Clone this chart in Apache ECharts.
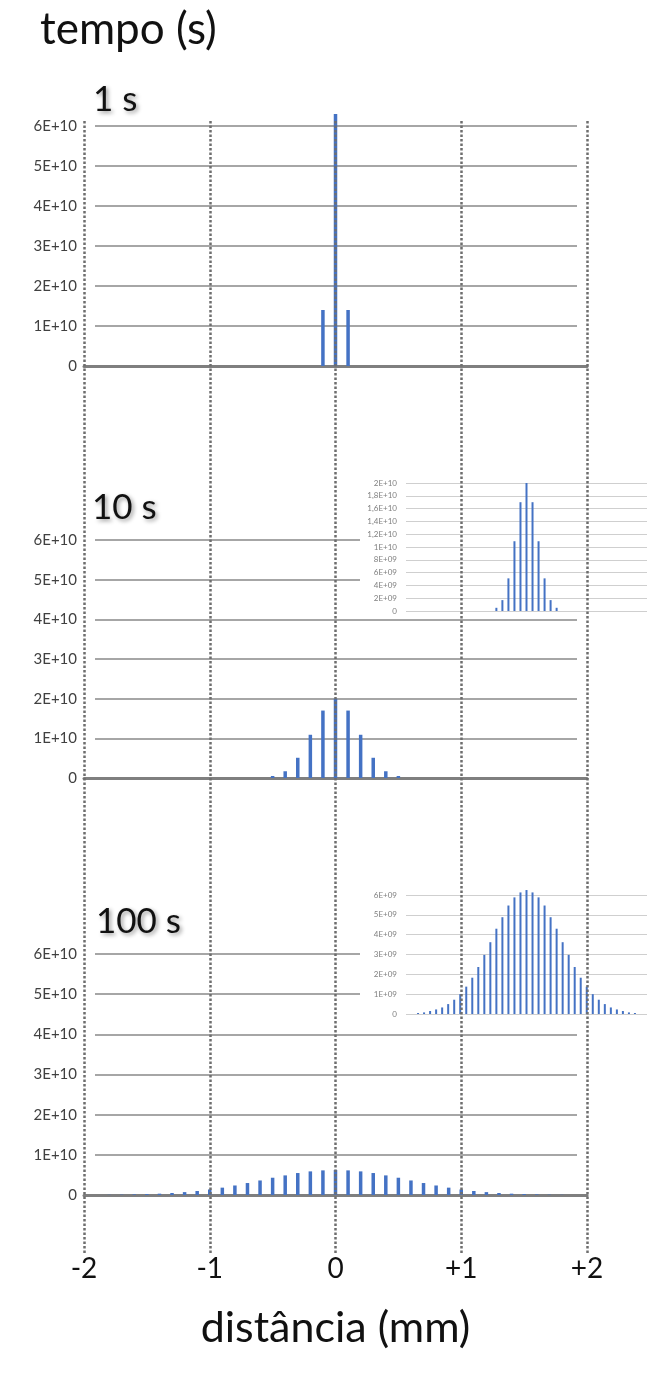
<!DOCTYPE html>
<html>
<head>
<meta charset="utf-8">
<script src="https://cdn.jsdelivr.net/npm/echarts@6/dist/echarts.min.js"></script>
<style>
  html, body { margin: 0; padding: 0; background: #fff; }
  #chart { width: 654px; height: 1376px; }
</style>
</head>
<body>
<div id="chart"></div>
<script>
// Distance from the source (mm) and particle counts per 0.1 mm bin
const pos1 = [-0.1, 0, 0.1];
const count1 = [1.4e10, 6.3e10, 1.4e10];

const pos10 = [-0.5, -0.4, -0.3, -0.2, -0.1, 0, 0.1, 0.2, 0.3, 0.4, 0.5];
const count10 = [0.05e10, 0.17e10, 0.51e10, 1.09e10, 1.70e10, 2.0e10, 1.70e10, 1.09e10, 0.51e10, 0.17e10, 0.05e10];

const pos100 = [-1.8, -1.7, -1.6, -1.5, -1.4, -1.3, -1.2, -1.1, -1.0, -0.9, -0.8, -0.7, -0.6, -0.5, -0.4, -0.3, -0.2, -0.1,
                0, 0.1, 0.2, 0.3, 0.4, 0.5, 0.6, 0.7, 0.8, 0.9, 1.0, 1.1, 1.2, 1.3, 1.4, 1.5, 1.6, 1.7, 1.8];
const count100 = [0.05e9, 0.08e9, 0.15e9, 0.23e9, 0.33e9, 0.5e9, 0.72e9, 1.0e9, 1.38e9, 1.83e9, 2.37e9, 2.98e9, 3.62e9, 4.3e9, 4.88e9, 5.47e9, 5.88e9, 6.13e9,
                  6.25e9, 6.13e9, 5.88e9, 5.47e9, 4.88e9, 4.3e9, 3.62e9, 2.98e9, 2.37e9, 1.83e9, 1.38e9, 1.0e9, 0.72e9, 0.5e9, 0.33e9, 0.23e9, 0.15e9, 0.08e9, 0.05e9];

// Tick labels
const yTicksMain = ['0', '1E+10', '2E+10', '3E+10', '4E+10', '5E+10', '6E+10'];
const yTicks10 = ['0', '2E+09', '4E+09', '6E+09', '8E+09', '1E+10', '1,2E+10', '1,4E+10', '1,6E+10', '1,8E+10', '2E+10'];
const yTicks100 = ['0', '1E+09', '2E+09', '3E+09', '4E+09', '5E+09', '6E+09'];
const xTicks = ['-2', '-1', '0', '+1', '+2'];
const panelNames = ['1 s', '10 s', '100 s'];

const FONT = 'Lato, "Liberation Sans", sans-serif';
const BLUE = '#4472c4';

const zip = (xs, ys) => xs.map((x, i) => [x, ys[i]]);
const tickFmt = (labels, step) => (v) => labels[Math.round(v / step)] ?? '';

const chart = echarts.init(document.getElementById('chart'), null, { renderer: 'canvas' });

// three stacked panels: [top, height]
const panels = [[126, 240], [540, 238], [954, 241]];

const grid = [];
const xAxis = [];
const yAxis = [];

panels.forEach(([top, height]) => {
  // panel with y labels and zero baseline
  grid.push({ left: 84, right: 67, top, height });
  xAxis.push({
    gridIndex: grid.length - 1, type: 'value', min: -2, max: 2,
    axisLine: { show: true, onZero: false, lineStyle: { color: '#7f7f7f', width: 3 } },
    axisTick: { show: false }, axisLabel: { show: false }, splitLine: { show: false }, z: 1
  });
  yAxis.push({
    gridIndex: grid.length - 1, type: 'value', min: 0, max: 6e10, interval: 1e10,
    axisLine: { show: false }, axisTick: { show: false }, splitLine: { show: false },
    axisLabel: { formatter: tickFmt(yTicksMain, 1e10), color: '#404040', fontSize: 15, fontFamily: FONT, margin: 7 }
  });
  // horizontal gridlines, slightly inset from the panel edges
  grid.push({ left: 95, right: 77, top, height });
  xAxis.push({ gridIndex: grid.length - 1, type: 'value', min: -2, max: 2, show: false });
  yAxis.push({
    gridIndex: grid.length - 1, type: 'value', min: 0, max: 6e10, interval: 1e10,
    axisLine: { show: false }, axisTick: { show: false }, axisLabel: { show: false },
    splitLine: { show: true, lineStyle: { color: '#a6a6a6', width: 2 } }, z: 0
  });
});

// zoomed insets for 10 s and 100 s: white backing + plot
function addInset(bgTop, bgHeight, top, height, max, step, labels) {
  grid.push({ left: 360, right: 0, top: bgTop, height: bgHeight, show: true, backgroundColor: '#ffffff', borderWidth: 0, z: 3 });
  xAxis.push({ gridIndex: grid.length - 1, type: 'value', min: 0, max: 1, show: false });
  yAxis.push({ gridIndex: grid.length - 1, type: 'value', min: 0, max: 1, show: false });
  grid.push({ left: 406, right: 7, top, height });
  xAxis.push({ gridIndex: grid.length - 1, type: 'value', min: -2, max: 2, show: false });
  yAxis.push({
    gridIndex: grid.length - 1, type: 'value', min: 0, max, interval: step, z: 4,
    axisLine: { show: false }, axisTick: { show: false },
    splitLine: { show: true, lineStyle: { color: '#cfcfcf', width: 1.2 } },
    axisLabel: { formatter: tickFmt(labels, step), color: '#7f7f7f', fontSize: 8, fontFamily: FONT, margin: 9 }
  });
  return grid.length - 1;
}
const inset10 = addInset(474, 143, 483, 128, 2e10, 2e9, yTicks10);
const inset100 = addInset(886, 135, 895, 119, 6e9, 1e9, yTicks100);

// dotted distance markers running through all panels, with the distance axis
grid.push({ left: 84, right: 67, top: 121, bottom: 123 });
const overlay = grid.length - 1;
xAxis.push({
  gridIndex: overlay, type: 'value', min: -2, max: 2, interval: 1, z: 10,
  axisLine: { show: false }, axisTick: { show: false },
  splitLine: { show: true, showMinLine: true, showMaxLine: true, lineStyle: { color: '#6e6e6e', width: 2.5, type: [2.5, 2] } },
  axisLabel: { formatter: (v) => xTicks[Math.round(v) + 2], color: '#111', fontSize: 28, fontFamily: FONT, margin: 2 },
  name: 'distância (mm)', nameLocation: 'middle', nameGap: 54,
  nameTextStyle: { color: '#111', fontSize: 43, fontFamily: FONT }
});
yAxis.push({ gridIndex: overlay, type: 'value', min: 0, max: 1, show: false });

const barSeries = (axisIdx, xs, ys, width, z) => ({
  type: 'bar', xAxisIndex: axisIdx, yAxisIndex: axisIdx, data: zip(xs, ys),
  barWidth: width, clip: false, itemStyle: { color: BLUE }, z, silent: true
});

const panelTitle = (text, left, top) => ({
  text, left, top, padding: 0,
  textStyle: {
    fontFamily: FONT, fontSize: 35, fontWeight: 'normal', color: '#111',
    textShadowColor: 'rgba(0,0,0,0.4)', textShadowBlur: 4, textShadowOffsetX: 2, textShadowOffsetY: 2
  }
});

chart.setOption({
  animation: false,
  backgroundColor: '#ffffff',
  title: [
    { text: 'tempo (s)', left: 40, top: 8, padding: 0, textStyle: { fontFamily: FONT, fontSize: 44, fontWeight: 'normal', color: '#111' } },
    panelTitle(panelNames[0], 93, 82),
    panelTitle(panelNames[1], 92, 490),
    panelTitle(panelNames[2], 96, 904)
  ],
  grid, xAxis, yAxis,
  series: [
    barSeries(0, pos1, count1, 3.5, 2),
    barSeries(2, pos10, count10, 3.5, 2),
    barSeries(4, pos100, count100, 3.5, 2),
    barSeries(inset10, pos10, count10, 2, 5),
    barSeries(inset100, pos100, count100, 2, 5)
  ]
});
</script>
</body>
</html>
